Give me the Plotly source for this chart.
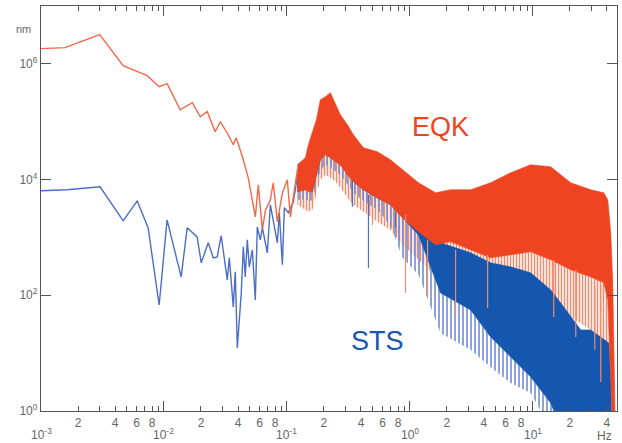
import math
import plotly.graph_objects as go

# ---------------- data (Hz, nm) ----------------
# EQK low-frequency part (sparse line)
eqk_lf_f = [0.001, 0.00157, 0.0030, 0.00466, 0.0073, 0.00914, 0.0106, 0.01355, 0.0170, 0.0197,
            0.0225, 0.0261, 0.0287, 0.0333, 0.0366, 0.0387, 0.0434, 0.0485, 0.0553, 0.0585,
            0.0631, 0.0667, 0.0733, 0.0774, 0.0836, 0.0918, 0.1007, 0.1067, 0.1216]
eqk_lf_a = [1.83e6, 1.91e6, 3.2e6, 9.3e5, 6.25e5, 4.03e5, 4.54e5, 1.61e5, 2.13e5, 1.22e5,
            1.49e5, 6.7e4, 1.0e5, 5.96e4, 4.0e4, 5.28e4, 2.48e4, 1.07e4, 2.27e3, 8.1e3,
            1.35e3, 2.89e3, 4.48e3, 8.8e3, 1.86e3, 5.9e3, 9.9e3, 2.27e3, 1.48e4]

# EQK dense part: upper envelope, solid lower edge, bottom of the dips
eqk_band_f = [0.1215, 0.1412, 0.1494, 0.1609, 0.1735, 0.187, 0.2055, 0.2256, 0.2478, 0.2721,
              0.3103, 0.3473, 0.4189, 0.5448, 0.695, 0.870, 1.175, 1.616, 2.141, 3.115,
              4.532, 6.595, 9.60, 13.96, 20.31, 29.56, 37.72, 40.65, 43.0, 44.6,
              45.5, 46.8]
eqk_upper = [1.80e4, 2.38e4, 4.0e4, 6.71e4, 1.08e5, 2.40e5, 2.71e5, 3.18e5, 1.97e5, 1.32e5,
             8.87e4, 5.96e4, 3.55e4, 3.03e4, 2.20e4, 1.48e4, 8.81e3, 5.91e3, 6.66e3, 6.66e3,
             8.81e3, 1.31e4, 1.80e4, 1.66e4, 8.81e3, 6.66e3, 5.91e3, 4.47e3, 1.20e3, 164,
             22.4, 0.5]
eqk_lower = [6.15e3, 6.66e3, 6.15e3, 6.15e3, 1.21e4, 2.20e4, 2.69e4, 2.38e4, 2.03e4, 1.80e4,
             1.21e4, 9.16e3, 6.66e3, 4.84e3, 3.66e3, 2.18e3, 1.25e3, 745, 839, 610,
             444, 500, 564, 410, 275, 208, 164, 83.2, 3.44, 0.5,
             0.5, 0.5]
eqk_dips = [3.66e3, 3.00e3, 2.77e3, 3.00e3, 5.46e3, 9.93e3, 1.21e4, 1.07e4, 9.16e3, 7.21e3,
            4.84e3, 3.66e3, 2.77e3, 1.86e3, 1.35e3, 745, 410, 225, 151, 102,
            83.2, 83.2, 124, 83.2, 42.3, 25.2, 13.9, 3.44, 0.5, 0.5,
            0.5, 0.5]
# EQK single deep dips (frequency, top, bottom)
eqk_spike_f = [0.496, 0.921, 1.391, 2.351, 4.283, 14.77, 22.32, 31.87, 35.66]
eqk_spike_top = [4.84e3, 2.46e3, 909, 610, 500, 410, 275, 151, 151]
eqk_spike_bot = [1.65e3, 110, 93.8, 45.8, 60, 42.3, 19.1, 11.4, 3.18]

# STS low-frequency part (sparse line)
sts_lf_f = [0.001, 0.00163, 0.00302, 0.00466, 0.00605, 0.00743, 0.00914, 0.0106, 0.0138, 0.01545,
            0.0186, 0.0201, 0.0229, 0.0252, 0.0271, 0.0292, 0.0327, 0.0340, 0.0366, 0.0380,
            0.0395, 0.0425, 0.0442, 0.0458, 0.0476, 0.0494, 0.0523, 0.0553, 0.0574, 0.0607,
            0.0631, 0.0693, 0.0733, 0.0836, 0.0867, 0.0918, 0.0953, 0.1026, 0.1127, 0.1216]
sts_lf_a = [6.4e3, 6.67e3, 7.5e3, 1.94e3, 4.3e3, 1.47e3, 68, 2.01e3, 208, 1.47e3,
            1.02e3, 364, 807, 444, 461, 1.07e3, 185, 444, 63, 254,
            12.3, 110, 688, 208, 908, 310, 610, 83, 1.52e3, 908,
            1.47e3, 542, 3.66e3, 807, 2.67e3, 336, 3.25e3, 2.67e3, 4.13e3, 1.12e4]

# STS dense part: upper envelope, solid lower edge, bottom of the dips
sts_band_f = [0.1215, 0.1412, 0.1609, 0.1735, 0.187, 0.2055, 0.2256, 0.2721, 0.3473, 0.4189,
              0.5448, 0.695, 0.870, 1.175, 1.775, 3.115, 4.532, 6.595, 9.60, 13.96,
              16.84, 24.51, 29.56, 35.66, 41.42, 43.0, 43.8]
sts_upper = [1.21e4, 1.80e4, 4.88e4, 7.87e4, 1.97e5, 2.40e5, 2.60e5, 1.08e5, 4.88e4, 3.28e4,
             2.69e4, 2.03e4, 1.36e4, 7.21e3, 807, 542, 364, 310, 244, 124,
             73.9, 25.2, 25.2, 19.1, 15.0, 3.44, 0.5]
sts_lower = [6.2e3, 6.7e3, 6.2e3, 1.2e4, 2.2e4, 2.7e4, 2.4e4, 1.8e4, 9.2e3, 6.7e3,
             4.8e3, 3.7e3, 2.2e3, 1.1e3, 110, 55.9, 19.1, 8.59, 3.87, 1.38,
             0.5, 0.5, 0.5, 0.5, 0.5, 0.5, 0.5]
sts_dips = [4.5e3, 4.5e3, 4.3e3, 8.0e3, 1.4e4, 1.8e4, 1.6e4, 1.2e4, 6.0e3, 4.2e3,
            3.0e3, 1.6e3, 444, 225, 22.4, 11.4, 5.77, 3.05, 2.05, 0.5,
            0.5, 0.5, 0.5, 0.5, 0.5, 0.5, 0.5]
sts_spike_f = [0.3408, 0.460, 0.763]
sts_spike_top = [9.93e3, 5.46e3, 2.77e3]
sts_spike_bot = [3.38e3, 298, 1.47e3]

# axis ticks
decades_x = [1e-3, 1e-2, 1e-1, 1e0, 1e1]
minor_digits = [2, 3, 4, 5, 6, 7, 8, 9]
labelled_digits = [2, 4, 6, 8]
y_tick_vals = [1, 1e2, 1e4, 1e6]

# ---------------- colours ----------------
RED = "#EE4422"
RED_LINE = "#F2694A"
RED_PALE = "#F38A6C"
BLUE = "#1557AE"
BLUE_LINE = "#4B6EC6"
BLUE_PALE = "#6C8DD6"
AXIS = "#555555"
TXT = "#666666"
FONT = "Liberation Sans, Arial, sans-serif"


def band(f, top, bottom):
    return f + f[::-1], top + bottom[::-1]


def spikes(f, top, bot):
    xs, ys = [], []
    for fi, t, b in zip(f, top, bot):
        xs += [fi, fi, None]
        ys += [t, b, None]
    return xs, ys


def stripe_trace(f, top, bottom, color, solidity, size=3):
    bx, by = band(f, top, bottom)
    return go.Scatter(x=bx, y=by, fill="toself", fillcolor="rgba(0,0,0,0)",
                      fillpattern=dict(shape="|", fgcolor=color, bgcolor="rgba(255,255,255,0)",
                                       size=size, solidity=solidity, fillmode="replace"),
                      mode="none", hoverinfo="skip", showlegend=False)


def solid_trace(f, top, bottom, color):
    bx, by = band(f, top, bottom)
    return go.Scatter(x=bx, y=by, fill="toself", fillcolor=color, mode="lines",
                      line=dict(color=color, width=0.6), hoverinfo="skip", showlegend=False)


fig = go.Figure()

# pale dips below the dense bands
fig.add_trace(stripe_trace(eqk_band_f, eqk_lower, eqk_dips, RED_PALE, 0.5))
fig.add_trace(stripe_trace(sts_band_f, sts_lower, sts_dips, BLUE_PALE, 0.4, 4))
# STS
fig.add_trace(solid_trace(sts_band_f, sts_upper, sts_lower, BLUE))
sx, sy = spikes(sts_spike_f, sts_spike_top, sts_spike_bot)
fig.add_trace(go.Scatter(x=sx, y=sy, mode="lines", line=dict(color=BLUE_LINE, width=1.2),
                         hoverinfo="skip", showlegend=False))
fig.add_trace(go.Scatter(x=sts_lf_f, y=sts_lf_a, mode="lines", line=dict(color=BLUE_LINE, width=1.4),
                         name="STS", showlegend=False))
# EQK
fig.add_trace(solid_trace(eqk_band_f, eqk_upper, eqk_lower, RED))
sx, sy = spikes(eqk_spike_f, eqk_spike_top, eqk_spike_bot)
fig.add_trace(go.Scatter(x=sx, y=sy, mode="lines", line=dict(color=RED_PALE, width=1.2),
                         hoverinfo="skip", showlegend=False))
fig.add_trace(go.Scatter(x=eqk_lf_f, y=eqk_lf_a, mode="lines", line=dict(color=RED_LINE, width=1.4),
                         name="EQK", showlegend=False))

# ticks
minor_vals, minor_text = [], []
for d in decades_x:
    for m in minor_digits:
        v = d * m
        if v <= 48:
            minor_vals.append(v)
            minor_text.append(str(m) if m in labelled_digits else "")

fig.update_xaxes(type="log", range=[-3, 1.684], showline=True, linecolor=AXIS, linewidth=1.3,
                 mirror="ticks", ticks="inside", ticklen=5, tickwidth=1.2, tickcolor=AXIS,
                 tickmode="array", tickvals=minor_vals, ticktext=minor_text,
                 tickfont=dict(family=FONT, size=12, color=TXT),
                 minor=dict(tickmode="array", tickvals=decades_x, ticks="inside", ticklen=10,
                            tickwidth=1.3, tickcolor=AXIS),
                 showgrid=False, zeroline=False)
fig.update_yaxes(type="log", range=[0, 7], showline=True, linecolor=AXIS, linewidth=1.3,
                 mirror="ticks", ticks="inside", ticklen=10, tickwidth=1.3, tickcolor=AXIS,
                 tickmode="array", tickvals=y_tick_vals,
                 ticktext=["10<sup>%d</sup>" % round(math.log10(v)) for v in y_tick_vals],
                 tickfont=dict(family=FONT, size=12, color=TXT),
                 showgrid=False, zeroline=False)

anns = []
for d in decades_x:
    anns.append(dict(x=math.log10(d), y=-0.058, xref="x", yref="paper",
                     text="10<sup>%d</sup>" % round(math.log10(d)), showarrow=False,
                     font=dict(family=FONT, size=12, color=TXT), xanchor="center", yanchor="middle"))
anns.append(dict(x=0.979, y=-0.062, xref="paper", yref="paper", text="Hz", showarrow=False,
                 font=dict(family=FONT, size=12, color=TXT), xanchor="center", yanchor="middle"))
anns.append(dict(x=-0.031, y=0.942, xref="paper", yref="paper", text="nm", showarrow=False,
                 font=dict(family=FONT, size=11, color=TXT), xanchor="center", yanchor="middle"))
anns.append(dict(x=0.693, y=0.701, xref="paper", yref="paper", text="EQK", showarrow=False,
                 font=dict(family=FONT, size=27, color=RED), xanchor="center", yanchor="middle"))
anns.append(dict(x=0.585, y=0.173, xref="paper", yref="paper", text="STS", showarrow=False,
                 font=dict(family=FONT, size=27, color=BLUE), xanchor="center", yanchor="middle"))

fig.update_layout(width=622, height=443, margin=dict(l=41, r=5, t=6, b=32),
                  paper_bgcolor="white", plot_bgcolor="white", annotations=anns,
                  showlegend=False)

fig.write_html("out.html")
